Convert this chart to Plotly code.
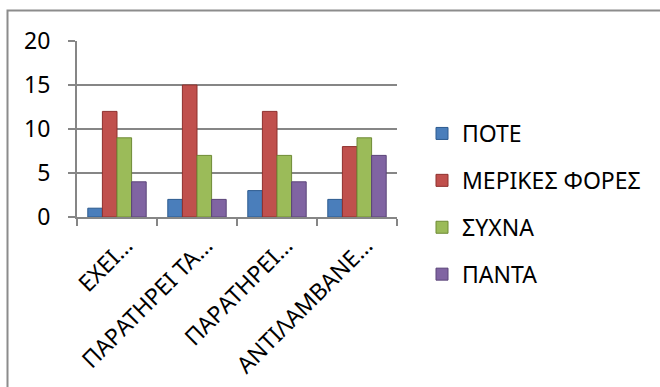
import plotly.graph_objects as go

# Survey answers per statement, counted per frequency class
categories = ["ΕΧΕΙ…", "ΠΑΡΑΤΗΡΕΙ ΤΑ…", "ΠΑΡΑΤΗΡΕΙ…", "ΑΝΤΙΛΑΜΒΑΝΕ…"]
series_names = ["ΠΟΤΕ", "ΜΕΡΙΚΕΣ ΦΟΡΕΣ", "ΣΥΧΝΑ", "ΠΑΝΤΑ"]
pote = [1, 2, 3, 2]
merikes = [12, 15, 12, 8]
sychna = [9, 7, 7, 9]
panta = [4, 2, 4, 7]
y_ticks = [0, 5, 10, 15, 20]

series_values = [pote, merikes, sychna, panta]
colors = ["#4A7EBB", "#C0504D", "#9BBB59", "#8064A2"]
edge = ["#2C5A8F", "#8E302D", "#6E8B35", "#5B4478"]

FONT = "Noto Sans"
W, H = 660, 387
L, R, T, B = 77, 397, 41, 217  # plot area in pixels

fig = go.Figure()
for i, (name, vals) in enumerate(zip(series_names, series_values)):
    fig.add_trace(go.Bar(
        x=categories, y=vals, name=name,
        marker=dict(color=colors[i], line=dict(color=edge[i], width=1)),
        legendgroup=name,
    ))

px2x = lambda p: (p - L) / (R - L)
px2y = lambda p: (B - p) / (B - T)

fig.update_layout(
    width=W, height=H,
    margin=dict(l=L, r=W - R, t=T, b=H - B),
    paper_bgcolor="white", plot_bgcolor="white",
    barmode="group", bargap=0.27, bargroupgap=0,
    font=dict(family=FONT, color="black", size=20),
    showlegend=True,
    legend=dict(
        x=px2x(422), y=px2y(112), xanchor="left", yanchor="top",
        traceorder="grouped", tracegroupgap=14,
        font=dict(size=23, family=FONT),
        itemwidth=30, maxheight=500,
        bgcolor="rgba(0,0,0,0)",
    ),
    xaxis=dict(
        type="category", tickson="boundaries", ticks="outside", ticklen=7,
        tickcolor="#868686", tickwidth=2,
        showline=True, linecolor="#868686", linewidth=2,
        showgrid=False, tickangle=-45, automargin=False,
        ticklabelshift=9, ticklabelstandoff=4,
        tickfont=dict(size=23, family=FONT),
    ),
    yaxis=dict(
        range=[0, 20], tickvals=y_ticks, ticks="outside", ticklen=7,
        tickcolor="#868686", tickwidth=2,
        showline=True, linecolor="#868686", linewidth=2,
        showgrid=True, gridcolor="#868686", gridwidth=2,
        zeroline=False, ticklabelstandoff=13, automargin=False,
        tickfont=dict(size=23, family=FONT),
    ),
    shapes=[dict(
        type="rect", xref="paper", yref="paper",
        x0=px2x(7.5), x1=px2x(700), y0=px2y(420), y1=px2y(10.5),
        line=dict(color="#8C8C8C", width=2), fillcolor="rgba(0,0,0,0)",
        layer="below",
    )],
)

fig.write_html("out.html")
